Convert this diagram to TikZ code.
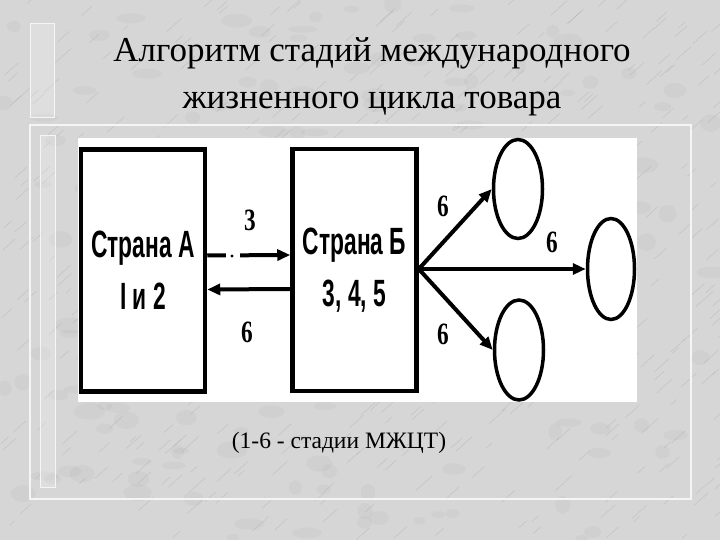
\documentclass[tikz,border=0pt]{standalone}
\usepackage{fontspec}
\setmainfont{Liberation Serif}
\newfontfamily\boxfont[FakeStretch=0.6]{Liberation Sans}
\newfontfamily\numfont[FakeStretch=0.75]{Liberation Serif}
\usetikzlibrary{shapes.geometric,arrows.meta}
\definecolor{marble}{RGB}{214,214,214}
\definecolor{vein}{RGB}{165,165,165}
\definecolor{panelline}{RGB}{245,245,245}
\begin{document}
\begin{tikzpicture}[x=1pt,y=-1pt,
  country/.style={draw,line width=4.5pt,minimum width=124pt,minimum height=242pt,
    inner sep=0pt,align=center,font=\boxfont\bfseries\fontsize{38}{52}\selectfont},
  market/.style={draw,ellipse,line width=3.5pt,inner sep=0pt},
  flow/.style={line width=4pt,-{Triangle[length=13pt,width=11pt]}},
  stage/.style={font=\numfont\bfseries\fontsize{31}{31}\selectfont,inner sep=0pt},
  strip/.style={draw=panelline,line width=1pt,fill=white,fill opacity=0.2}
]
\useasboundingbox (0,0) rectangle (720,540);
\fill[marble] (0,0) rectangle (720,540);
% marble texture
\pgfmathsetseed{7}
\foreach \i in {1,...,160}{
  \pgfmathsetmacro{\px}{720*rnd}
  \pgfmathsetmacro{\py}{540*rnd}
  \fill[vein,opacity=0.12] (\px,\py) ellipse ({6+10*rnd} and {3+6*rnd});
}
\foreach \i in {1,...,500}{
  \pgfmathsetmacro{\px}{720*rnd}
  \pgfmathsetmacro{\py}{540*rnd}
  \pgfmathsetmacro{\pl}{5+12*rnd}
  \draw[vein,line width=0.5pt,opacity=0.4] (\px,\py) -- ++(\pl,-\pl*0.9);
}
% decorative frame
\draw[panelline,line width=1.2pt] (30,125) rectangle (691,499);
\draw[strip] (30,24) rectangle (54,118);
\draw[strip] (40,136) rectangle (55,487);
% title
\node[font=\fontsize{35}{47}\selectfont,align=center,inner sep=0pt] (title) at (372,77)
  {Алгоритм стадий международного\\жизненного цикла товара};
% diagram area
\fill[white] (78,138) rectangle (637,402);
\node[country] (A) at (143,270.5) {Страна А\\I и 2};
\node[country] (B) at (354.5,270) {Страна Б\\3, 4, 5};
\node[market,minimum width=49pt,minimum height=99pt] (m1) at (518,189) {};
\node[market,minimum width=47pt,minimum height=101pt] (m2) at (611,269) {};
\node[market,minimum width=49pt,minimum height=100pt] (m3) at (519,350) {};
\coordinate (fan) at (B.east |- 0,269);
\draw[flow] ([yshift=15pt]A.east) -- ([yshift=15pt]B.west);
% print gap in the upper arrow
\fill[white] (226,251) rectangle (240,260);
\fill[black] (232,256) circle (1.6);
\draw[flow] ([yshift=-19pt]B.west) -- ([yshift=-19pt]A.east);
\draw[flow] (fan) -- (m1.west);
\draw[flow] (fan) -- (m2.west);
\draw[flow] (fan) -- (m3.west);
\node[stage] (l3) at (250,220) {3};
\node[stage] (l6a) at (247,332) {6};
\node[stage] (l6b) at (443,206) {6};
\node[stage] (l6c) at (552,242) {6};
\node[stage] (l6d) at (443,334) {6};
% caption
\node[font=\fontsize{23.5}{24}\selectfont,inner sep=0pt] (cap) at (339,443) {(1-6 - стадии МЖЦТ)};
\end{tikzpicture}
\end{document}
